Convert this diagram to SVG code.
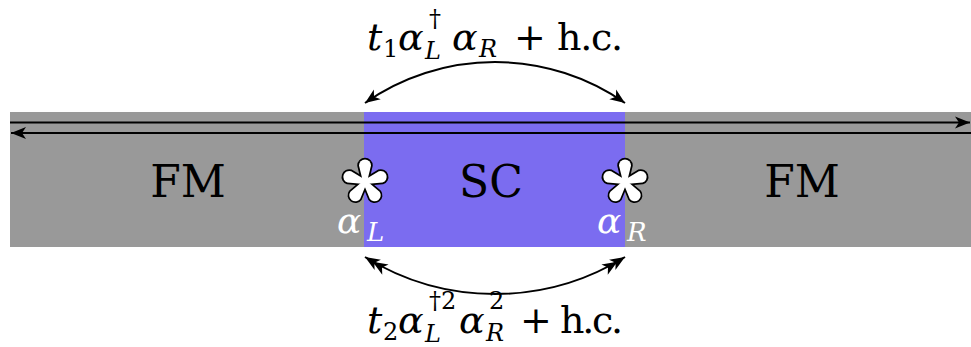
<svg xmlns="http://www.w3.org/2000/svg" width="971" height="347" viewBox="0 0 971 347">
<style>
text{font-family:'DejaVu Serif','Liberation Serif','Times New Roman',serif}
.i{font-style:italic}
.big{font-size:38px}
.sm{font-size:24px}
.reg{font-size:44px;fill:#000}
.w{fill:#ffffff}
.ln{fill:none;stroke:#000;stroke-width:2}
.arm{fill:#fff;stroke:#000;stroke-width:3.5;stroke-linejoin:round}
.armf{fill:#fff;stroke:none}
</style>
<defs>
<marker id="ah" viewBox="-17 -8 19 16" refX="0" refY="0" markerWidth="19" markerHeight="16" markerUnits="userSpaceOnUse" orient="auto-start-reverse">
<path d="M0,0 L-15,-6 L-11,0 L-15,6 Z" fill="#000"/>
</marker>
<marker id="ah2" viewBox="-26 -8 28 16" refX="0" refY="0" markerWidth="28" markerHeight="16" markerUnits="userSpaceOnUse" orient="auto-start-reverse">
<path d="M0,0 L-15,-6 L-11,0 L-15,6 Z M-9,0 L-24,-6 L-20,0 L-24,6 Z" fill="#000"/>
</marker>
<path id="armp" d="M-2,0 L-6,-16.5 A6,6 0 0 1 6,-16.5 L2,0 Z"/>
<g id="starshape">
<use href="#armp" class="arm"/>
<use href="#armp" class="arm" transform="rotate(72)"/>
<use href="#armp" class="arm" transform="rotate(144)"/>
<use href="#armp" class="arm" transform="rotate(216)"/>
<use href="#armp" class="arm" transform="rotate(288)"/>
<use href="#armp" class="armf"/>
<use href="#armp" class="armf" transform="rotate(72)"/>
<use href="#armp" class="armf" transform="rotate(144)"/>
<use href="#armp" class="armf" transform="rotate(216)"/>
<use href="#armp" class="armf" transform="rotate(288)"/>
<circle r="4" class="armf"/>
</g>
</defs>

<g id="band">
<rect x="10" y="112" width="961" height="135" fill="#999999"/>
</g>
<g id="sc-region">
<rect x="364" y="112" width="261" height="135" fill="#7b6cf0"/>
</g>

<g id="fm-left"><text class="reg" x="188" y="197" text-anchor="middle">FM</text></g>
<g id="sc"><text class="reg" x="491" y="197" text-anchor="middle">SC</text></g>
<g id="fm-right"><text class="reg" x="802" y="197" text-anchor="middle">FM</text></g>

<g id="connectors">
<line class="ln" x1="10" y1="122.5" x2="970" y2="122.5" marker-end="url(#ah)"/>
<line class="ln" x1="971" y1="133" x2="11" y2="133" marker-end="url(#ah)"/>
<path class="ln" d="M365,103 A227,227 0 0 1 625,103" marker-start="url(#ah)" marker-end="url(#ah)"/>
<path class="ln" d="M365,257 A247,247 0 0 0 625,257" marker-start="url(#ah2)" marker-end="url(#ah2)"/>
</g>

<g id="star-left">
<use href="#starshape" transform="translate(365,182)"/>
<text class="i w" x="337" y="233" font-size="36">α</text>
<text class="i w" x="367" y="241" font-size="26">L</text>
</g>
<g id="star-right">
<use href="#starshape" transform="translate(625,182)"/>
<text class="i w" x="597" y="233" font-size="36">α</text>
<text class="i w" x="627" y="241" font-size="26">R</text>
</g>

<g id="label-top">
<text class="i big" x="367" y="50">t</text>
<text class="sm" x="383" y="57">1</text>
<text class="i big" x="398" y="50">α</text>
<text class="sm" x="429" y="27">†</text>
<text class="i sm" x="425" y="59">L</text>
<text class="i big" x="452" y="50">α</text>
<text class="i sm" x="479" y="57">R</text>
<text class="big" x="514" y="50">+</text>
<text class="big" x="557" y="50" textLength="66">h.c.</text>
</g>

<g id="label-bottom">
<text class="i big" x="367" y="333">t</text>
<text class="sm" x="383" y="340">2</text>
<text class="i big" x="398" y="333">α</text>
<text class="sm" x="429" y="309">†2</text>
<text class="i sm" x="425" y="342">L</text>
<text class="i big" x="459" y="333">α</text>
<text class="sm" x="489" y="309">2</text>
<text class="i sm" x="486" y="341">R</text>
<text class="big" x="520" y="333">+</text>
<text class="big" x="560" y="333" textLength="63">h.c.</text>
</g>
</svg>
